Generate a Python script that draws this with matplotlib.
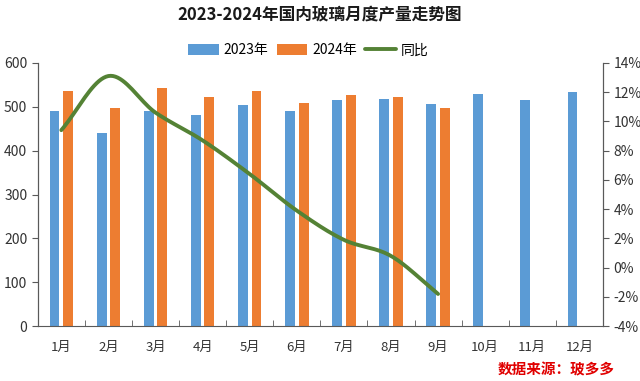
import numpy as np
import matplotlib.pyplot as plt
from matplotlib.ticker import FuncFormatter

plt.rcParams['font.family'] = ['Noto Sans CJK SC', 'DejaVu Sans']

# Datos del grafico
meses = ['1月', '2月', '3月', '4月', '5月', '6月', '7月', '8月', '9月', '10月', '11月', '12月']
prod_2023 = [490, 440, 490, 481, 503, 490, 516, 518, 506, 530, 516, 533]
prod_2024 = [536, 498, 542, 523, 535, 509, 526, 522, 497]
tongbi = [9.4, 13.1, 10.6, 8.7, 6.4, 3.9, 1.9, 0.8, -1.8]


def suavizar(x, y, pasos=20):
    # curva suave tipo Excel (Catmull-Rom) solo para el trazo
    x = np.asarray(x, float)
    y = np.asarray(y, float)
    px = np.concatenate([[2 * x[0] - x[1]], x, [2 * x[-1] - x[-2]]])
    py = np.concatenate([[2 * y[0] - y[1]], y, [2 * y[-1] - y[-2]]])
    xs, ys = [], []
    t = np.linspace(0, 1, pasos, endpoint=False)
    for i in range(1, len(px) - 2):
        for arr, out in ((px, xs), (py, ys)):
            p0, p1, p2, p3 = arr[i - 1], arr[i], arr[i + 1], arr[i + 2]
            out.extend(0.5 * ((2 * p1) + (-p0 + p2) * t
                              + (2 * p0 - 5 * p1 + 4 * p2 - p3) * t ** 2
                              + (-p0 + 3 * p1 - 3 * p2 + p3) * t ** 3))
    xs.append(x[-1])
    ys.append(y[-1])
    return np.array(xs), np.array(ys)


fig = plt.figure(figsize=(6.4, 3.81), dpi=100)
ax = fig.add_axes([0.059, 0.144, 0.883, 0.691])
ax2 = ax.twinx()

x = np.arange(len(meses))
x24 = np.arange(len(prod_2024))
ancho = 0.21
b1 = ax.bar(x - 0.145, prod_2023, ancho, color='#5B9BD5', label='2023年', zorder=2)
b2 = ax.bar(x24 + 0.145, prod_2024, ancho, color='#ED7D31', label='2024年', zorder=2)

xs, ys = suavizar(x24, tongbi)
l1, = ax2.plot(xs, ys, color='#548235', lw=2.8, label='同比', solid_capstyle='round')

ax.set_xlim(-0.5, len(meses) - 0.5)
ax.set_ylim(0, 600)
ax.set_yticks(range(0, 601, 100))
ax2.set_ylim(-4, 14)
ax2.set_yticks(range(-4, 15, 2))
ax2.yaxis.set_major_formatter(FuncFormatter(lambda v, p: f'{int(v)}%'))

ax.set_xticks(x)
ax.set_xticklabels(meses)
ax.set_xticks(np.arange(-0.5, len(meses), 1), minor=True)
ax.tick_params(axis='x', which='major', length=0, pad=11, labelsize=9.5, colors='#333333')
ax.tick_params(axis='x', which='minor', length=4, direction='in', color='#595959')
ax.tick_params(axis='y', length=4, color='#595959', labelsize=10, colors='#333333')
ax2.tick_params(axis='y', length=4, color='#595959', labelsize=10, colors='#333333')
for a in (ax, ax2):
    a.spines['top'].set_visible(False)
    for s in ('left', 'right', 'bottom'):
        a.spines[s].set_color('#595959')
ax2.spines['bottom'].set_visible(False)

fig.legend(handles=[b1, b2, l1], loc='center', bbox_to_anchor=(0.482, 0.868), ncol=3,
           frameon=False, fontsize=10, handlelength=2.2, handleheight=0.8,
           columnspacing=0.6, handletextpad=0.35)

fig.text(0.5, 0.96, '2023-2024年国内玻璃月度产量走势图', ha='center', va='center',
         fontsize=12, fontweight='bold', color='#1a1a1a')
fig.text(0.96, 0.03, '数据来源：玻多多', ha='right', va='center', fontsize=10.5,
         fontweight='bold', style='italic', color='#E00000')

fig.savefig('out.png', dpi=100)
